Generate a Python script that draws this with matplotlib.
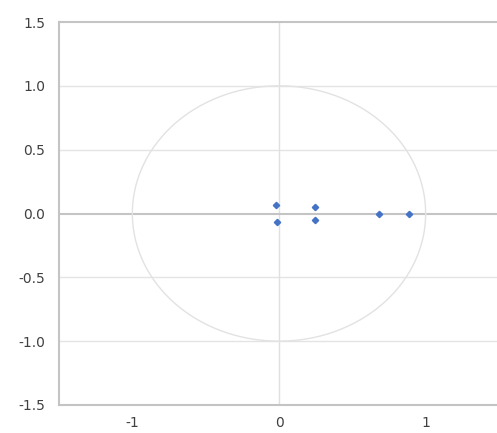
import matplotlib
matplotlib.use("Agg")
import matplotlib.pyplot as plt
import numpy as np

# Data
x_vals = [-0.02, -0.015, 0.246, 0.246, 0.683, 0.887]
y_vals = [0.067, -0.068, 0.047, -0.047, 0.0, 0.0]
x_ticks = [-1, 0, 1]
y_ticks = [-1.5, -1.0, -0.5, 0.0, 0.5, 1.0, 1.5]
y_tick_labels = ["-1.5", "-1.0", "-0.5", "0.0", "0.5", "1.0", "1.5"]
circle_radius = 1.0

fig = plt.figure(figsize=(4.97, 4.33), dpi=100)
ax = fig.add_axes([59 / 497, 1 - 405 / 433, 440 / 497, 383 / 433])
ax.set_xlim(-1.5, 1.5)
ax.set_ylim(-1.5, 1.5)

# horizontal gridlines
for yv in y_ticks:
    if yv in (-1.5, 1.5, 0.0):
        continue
    ax.axhline(yv, color="#e4e4e4", lw=1.0, zorder=1)
# zero axes
ax.axhline(0.0, color="#c4c4c4", lw=1.5, zorder=2)
ax.axvline(0.0, color="#e0e0e0", lw=1.0, zorder=1)

# unit circle
t = np.linspace(0, 2 * np.pi, 400)
ax.plot(circle_radius * np.cos(t), circle_radius * np.sin(t), color="#e2e2e2", lw=1.0, zorder=2)

ax.plot(x_vals, y_vals, linestyle="none", marker="D", markersize=3.2,
        color="#4472C4", zorder=3)

for side in ["left", "top", "bottom"]:
    ax.spines[side].set_color("#c4c4c4")
    ax.spines[side].set_linewidth(1.5)
ax.spines["right"].set_visible(False)

ax.set_xticks(x_ticks)
ax.set_xticklabels([str(v) for v in x_ticks])
ax.set_yticks(y_ticks)
ax.set_yticklabels(y_tick_labels)
ax.tick_params(axis="both", length=0, labelsize=10, labelcolor="#404040")
ax.tick_params(axis="y", pad=10)
ax.tick_params(axis="x", pad=8)

fig.savefig("out.png", dpi=100)
